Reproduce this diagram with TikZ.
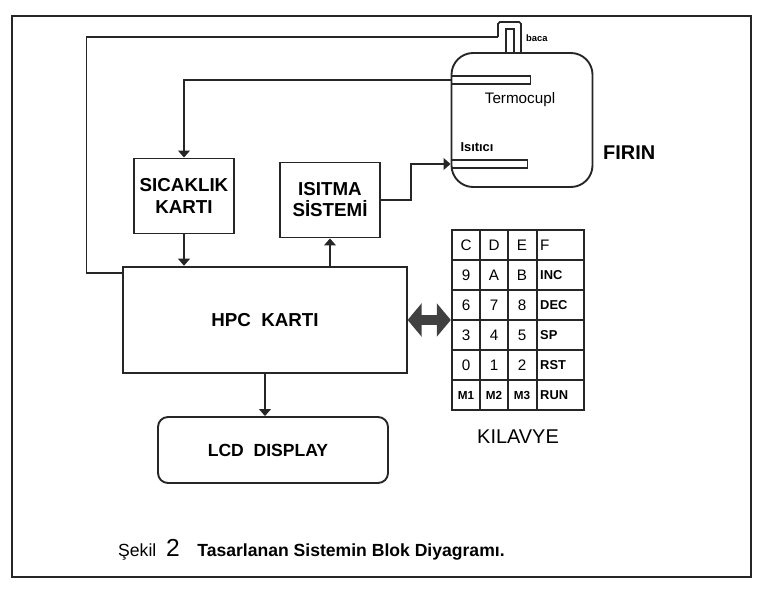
\documentclass[tikz,border=0pt]{standalone}
\usepackage{fontspec}
\setmainfont{Liberation Sans}
\usepackage{tikz}
\usetikzlibrary{arrows.meta, positioning, calc}

\newcommand{\keysm}[1]{{\fontsize{10}{12}\selectfont\bfseries #1}}

\begin{document}
\begin{tikzpicture}[
  x=0.03cm, y=-0.03cm,
  font=\fontsize{13}{15}\selectfont,
  % ---- Block styles ----
  base/.style={draw=black!85, rectangle, line width=1.6pt,
    align=center, inner sep=2pt},
  card/.style={base, minimum width=3cm, minimum height=2.25cm,
    font=\fontsize{16}{18}\selectfont\bfseries},
  hpcbox/.style={base, minimum width=8.5cm, minimum height=3.2cm,
    font=\fontsize{16}{18}\selectfont\bfseries},
  lcdbox/.style={base, rounded corners=0.3cm, minimum width=6.9cm,
    minimum height=1.98cm, font=\fontsize{15}{17}\selectfont\bfseries},
  oven/.style={base, rounded corners=0.65cm, minimum width=4.23cm,
    minimum height=4.02cm},
  probe/.style={base, line width=1.2pt, minimum height=0.24cm,
    inner sep=0pt, anchor=west},
  keycell/.style={font=\fontsize{13}{15}\selectfont, inner sep=0pt},
  keyword/.style={font=\fontsize{11}{13}\selectfont\bfseries,
    inner sep=0pt, anchor=west},
  lbl/.style={inner sep=0pt},
  % ---- Connector styles ----
  wire/.style={line width=1.5pt, draw=black!85},
  arr/.style={wire, -{Triangle[width=10pt,length=6pt]}},
  bus/.style={line width=9pt, draw=black!75,
    {Triangle[width=28pt,length=12pt]}-{Triangle[width=28pt,length=12pt]}},
  frame/.style={line width=2.4pt, draw=black!85},
]
\useasboundingbox (0,0) rectangle (757,595);
\draw[frame] (12,16) rectangle (751,577);

% ---- Blocks ----
\node[card]   (sicak)  at (184,196) {SICAKLIK\\KARTI};
\node[card]   (isitma) at (330,200) {ISITMA\\SİSTEMİ};
\node[hpcbox] (hpc)    at (265,320) {HPC\ \ KARTI};
\node[lcdbox] (lcd)    at (273,450) {LCD\ \ DISPLAY\hspace*{0.3cm}};

% ---- Oven with probes and chimney ----
\node[oven] (firin) at (522,120) {};
\node[lbl, anchor=west, font=\fontsize{17}{19}\selectfont\bfseries]
  (firinlbl) at (603,153) {FIRIN};
\node[probe, minimum width=2.37cm] (tprobe) at (firin.west |- 0,80)  {};
\node[probe, minimum width=2.28cm] (hprobe) at (firin.west |- 0,164) {};
\node[lbl] (termolbl) at (520,100) {Termocupl};
\node[lbl, font=\fontsize{11}{13}\selectfont\bfseries]
  (isiticilbl) at (477,147) {Isıtıcı};
\node[lbl, anchor=west, font=\fontsize{8}{9}\selectfont\bfseries]
  (bacalbl) at (526,38) {baca};
\coordinate (baca) at (498,37);
\draw[wire, rounded corners=1.5pt] (baca) -- (498,22) -- (521,22) -- (521,53);
\draw[wire] (506,53) -- (506,29) -- (514,29) -- (514,53);

% ---- Keypad ----
\node[base, line width=2pt, minimum width=3.96cm, minimum height=5.4cm,
  inner sep=0pt] (keypad) at (518,320) {};
\foreach \y in {260,290,...,380}
  \draw[wire] (keypad.west |- 0,\y) -- (keypad.east |- 0,\y);
\foreach \x in {480,508,537}
  \draw[wire] (\x,0 |- keypad.north) -- (\x,0 |- keypad.south);
\foreach \a/\b/\c/\d [count=\i, evaluate=\i as \yy using 215+30*\i] in
  {C/D/E/{\normalfont\fontsize{13}{15}\selectfont F}, 9/A/B/INC, 6/7/8/DEC,
   3/4/5/SP, 0/1/2/RST, {\keysm{M1}}/{\keysm{M2}}/{\keysm{M3}}/RUN} {
  \node[keycell] (k\i-1) at (466,\yy) {\a};
  \node[keycell] (k\i-2) at (494,\yy) {\b};
  \node[keycell] (k\i-3) at (522,\yy) {\c};
  \node[keyword] (k\i-4) at (540,\yy) {\d};
}
\node[lbl, font=\fontsize{17}{19}\selectfont, below=0.55cm of keypad]
  (kilavye) {KILAVYE};

% ---- Connections ----
\draw[arr] (tprobe.west) -| (sicak.north);
\draw[arr] (sicak.south) -- (sicak.south |- hpc.north);
\draw[arr] (hpc.north -| isitma.south) -- (isitma.south);
\draw[arr] (isitma.east) -- ++(30,0) |- (hprobe.west);
\draw[arr] (hpc.south) -- (hpc.south |- lcd.north);
\draw[bus] (hpc.east) -- (keypad.west);
\coordinate (loopin) at ($(hpc.north west)+(0,7)$);
\draw[wire] (loopin) -- ++(-36,0) |- (baca);

% ---- Caption ----
\node[lbl, anchor=west, font=\fontsize{15}{17}\selectfont] (caption) at (118,550)
  {Şekil\ \ {\fontsize{21}{23}\selectfont 2}\quad
   \textbf{Tasarlanan Sistemin Blok Diyagramı.}};
\end{tikzpicture}
\end{document}
